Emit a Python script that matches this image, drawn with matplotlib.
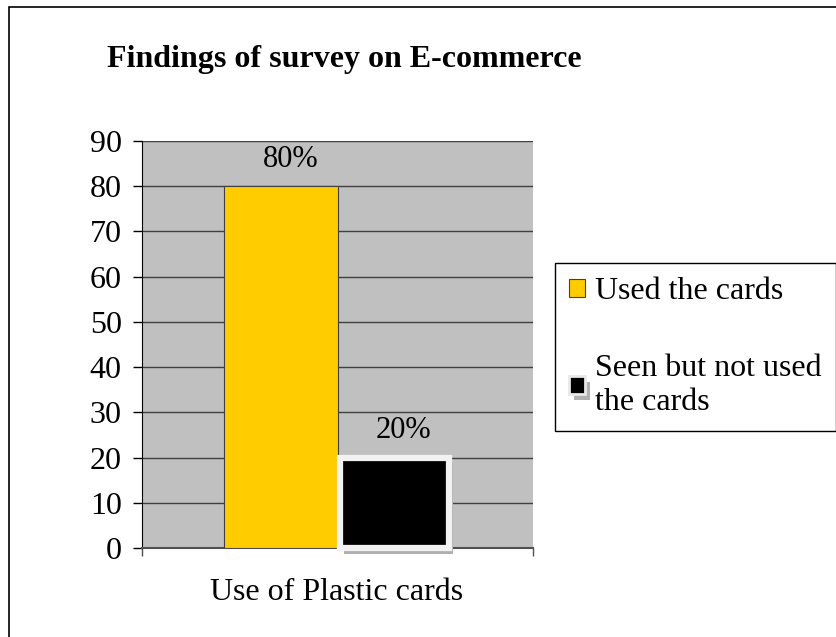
import matplotlib.pyplot as plt
import matplotlib.patheffects as pe
from matplotlib.patches import Rectangle

# data
category = 'Use of Plastic cards'
series = ['Used the cards', 'Seen but not used\nthe cards']
values = [80, 20]
labels = ['80%', '20%']
colors = ['#ffcc00', '#000000']
yticks = [0, 10, 20, 30, 40, 50, 60, 70, 80, 90]

plt.rcParams['font.family'] = 'Liberation Serif'

W, H = 836, 637
fig = plt.figure(figsize=(W / 100, H / 100), dpi=100)

# outer chart frame
fig.patches.append(Rectangle((9 / W, -0.05), 1.2, 1 - 7 / H + 0.05,
                             transform=fig.transFigure, fill=False,
                             edgecolor='black', linewidth=1.2))

ax = fig.add_axes([142 / W, 1 - 548 / H, (533 - 142) / W, (548 - 141) / H])
ax.set_facecolor('#c0c0c0')
ax.set_ylim(0, 90)
ax.set_xlim(0, 1)
ax.set_yticks(yticks)
ax.yaxis.grid(True, color='#404040', linewidth=1)
ax.set_axisbelow(True)
for s in ['top', 'right']:
    ax.spines[s].set_visible(False)
ax.spines['left'].set_color('black')
ax.spines['bottom'].set_color('#505050')
ax.spines['bottom'].set_linewidth(1.5)
ax.tick_params(axis='y', length=6.5, width=1, labelsize=23, pad=8)
ax.set_xticks([0, 1])
ax.set_xticklabels(['', ''])
ax.tick_params(axis='x', length=6, width=1, color='#505050')

width = 0.29
xs = [0.5 - width / 2, 0.5 + width / 2]
b1 = ax.bar(xs[0], values[0], width, color=colors[0], edgecolor='#404040',
            linewidth=0.8, label=series[0], zorder=3)
b2 = ax.bar(xs[1], values[1], width * 0.96, color=colors[1], edgecolor='#f2f2f2',
            linewidth=4.5, label=series[1], zorder=3, clip_on=False)
for p in b2:
    p.set_path_effects([pe.SimplePatchShadow(offset=(3, -4), shadow_rgbFace='#b0b0b0', alpha=1),
                        pe.Normal()])

for x, v, t in zip(xs, values, labels):
    ax.annotate(t, (x, v), xytext=(7, 14), textcoords='offset points',
                ha='center', va='baseline', fontsize=22)

fig.text(337 / W, 1 - 592 / H, category, ha='center', va='center', fontsize=23)
fig.text(107 / W, 1 - 59 / H, 'Findings of survey on E-commerce', ha='left', va='center',
         fontsize=23, fontweight='bold')

leg = fig.legend(handles=[b1, b2], labels=series, loc='upper left',
                 bbox_to_anchor=(555 / W, 1 - 263 / H), fontsize=23,
                 frameon=True, fancybox=False, edgecolor='black', framealpha=1,
                 handlelength=0.5, handleheight=0.5, handletextpad=0.3,
                 labelspacing=1.5, borderpad=0.45, borderaxespad=0)
leg.get_frame().set_linewidth(1)
leg.get_texts()[1].set_linespacing(1.2)
leg.legend_handles[1].set_linewidth(2)
leg.legend_handles[1].set_edgecolor('#e8e8e8')

fig.savefig('out.png', dpi=100)
